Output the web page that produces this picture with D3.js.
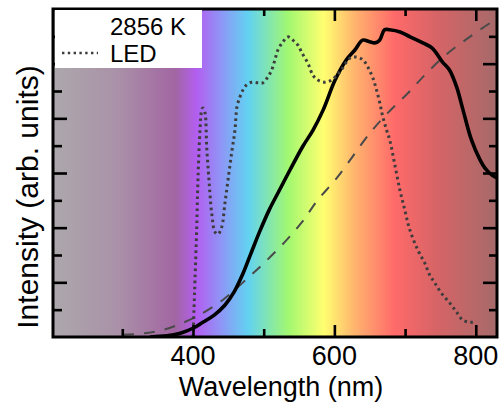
<!DOCTYPE html>
<html><head><meta charset="utf-8">
<script src="https://cdn.jsdelivr.net/npm/d3@7"></script>
<style>
body{margin:0;background:#fff;}
text{font-family:"Liberation Sans",Arial,sans-serif;fill:#000;}
</style></head>
<body><svg id="chart" width="501" height="405"></svg>
<script>
// ---- data ----
const seriesNames = ["2856 K", "LED"];
// measured 2856 K lamp spectrum (solid)
const lampNm  = [339,363,382,400,414,430,445,458,470,482,495,508,520,537,555,570,584,601,617,629,640,650,657,664,671,678,693,707,725,738,753,763,773,782,794,806,813,823,830];
const lampVal = [0,0.02,0.07,0.16,0.27,0.40,0.58,0.82,1.14,1.53,1.95,2.33,2.63,3.05,3.48,3.79,4.15,4.70,5.07,5.25,5.43,5.40,5.38,5.43,5.62,5.62,5.58,5.49,5.38,5.29,5.03,4.88,4.57,4.15,3.60,3.24,3.09,2.96,2.91];
// LED spectrum (dotted)
const ledNm  = [400,401.4,402.8,405.2,407,409.9,412.3,414.1,417,419.4,422.6,426.4,431.1,435.3,440.6,445.2,449.5,454.7,459.4,462.2,466.4,470.7,475.9,483,491.9,498.9,506,511.2,515.9,520.1,527.2,534.3,541.3,548.4,553.6,562.5,569.6,576.7,586.6,596,607.8,621.9,631.4,640.3,647.3,654.4,659.6,664.3,668.6,673.8,678.4,685.5,692.6,699.6,706.7,718,727.9,735,742,751.5,763.3,772.7,781.6,791.5,795.8];
const ledVal = [0,0.49,1.04,1.96,2.87,3.79,4.15,4.19,4.10,3.48,2.87,2.27,1.92,1.88,2.01,2.45,2.87,3.37,3.79,4.21,4.39,4.52,4.61,4.66,4.65,4.65,4.76,4.88,5.07,5.25,5.40,5.49,5.43,5.34,5.21,5.01,4.79,4.70,4.66,4.70,4.85,5.10,5.12,5.07,4.94,4.74,4.52,4.28,4.02,3.79,3.60,3.15,2.69,2.32,1.96,1.59,1.35,1.13,0.99,0.80,0.62,0.46,0.31,0.27,0.27];
// ideal blackbody reference (dashed)
const bbNm  = [301,332,357.6,385.9,414.1,445.2,477.7,501.8,530,554.1,576.7,603.5,650.2,675.6,703.9,730.7,760.4,791.5,819.8,830];
const bbVal = [0.04,0.07,0.13,0.26,0.44,0.71,1.08,1.37,1.74,2.10,2.51,2.91,3.73,4.10,4.46,4.83,5.19,5.49,5.74,5.82];
const xMajorTicks = [400,600,800];
const xMinorTicks = [300,500,700];
const yMajorTicks = [1,2,3,4,5];
const yMinorTicks = [0.5,1.5,2.5,3.5,4.5,5.5];

// ---- drawing ----
const svg = d3.select("#chart");
const L=53, R=497, T=9, B=337;
const x = d3.scaleLinear().domain([202,830]).range([L,R]);
const y = d3.scaleLinear().domain([0,6]).range([B,T]);

const spectrum = [
  [202,"#aca8ac"],[290,"#aa92a8"],[375,"#a266a2"],[405,"#b35ef0"],[440,"#8e96f6"],
  [478,"#62d2f2"],[535,"#a2f870"],[585,"#ffff70"],[630,"#ffb26e"],[685,"#ff6a6a"],
  [745,"#d66466"],[830,"#a66a6a"]
];
const defs = svg.append("defs");
const grad = defs.append("linearGradient").attr("id","spec")
  .attr("gradientUnits","userSpaceOnUse").attr("x1",L).attr("x2",R).attr("y1",0).attr("y2",0);
spectrum.forEach(s=>grad.append("stop").attr("offset",(x(s[0])-L)/(R-L)).attr("stop-color",s[1]));
defs.append("clipPath").attr("id","clip").append("rect").attr("x",L).attr("y",T).attr("width",R-L).attr("height",B-T);

svg.append("rect").attr("x",L).attr("y",T).attr("width",R-L).attr("height",B-T).attr("fill","url(#spec)");

const line = d3.line().x(d=>x(d[0])).y(d=>y(d[1])).curve(d3.curveCatmullRom.alpha(0.5));
const g = svg.append("g").attr("clip-path","url(#clip)");
g.append("path").datum(d3.zip(bbNm,bbVal)).attr("d",line)
  .attr("fill","none").attr("stroke","#4a4a4a").attr("stroke-width",2).attr("stroke-dasharray","11,10");
g.append("path").datum(d3.zip(lampNm,lampVal)).attr("d",line)
  .attr("fill","none").attr("stroke","#000").attr("stroke-width",3.6).attr("stroke-linejoin","round");
g.append("path").datum(d3.zip(ledNm,ledVal)).attr("d",line)
  .attr("fill","none").attr("stroke","#3d3d3d").attr("stroke-width",3).attr("stroke-dasharray","2.6,3.4");

// axes with inward ticks
function ax(axisFn, scale, ticks, len, transform){
  const a = axisFn(scale).tickValues(ticks).tickSize(-len).tickFormat("");
  const gg = svg.append("g").attr("transform",transform).call(a);
  gg.select(".domain").remove();
  gg.selectAll("line").attr("stroke","#000").attr("stroke-width",2.6);
  return gg;
}
ax(d3.axisBottom, x, xMajorTicks, 12, `translate(0,${B})`);
ax(d3.axisBottom, x, xMinorTicks, 8, `translate(0,${B})`);
ax(d3.axisTop, x, xMajorTicks, 12, `translate(0,${T})`);
ax(d3.axisTop, x, xMinorTicks, 7, `translate(0,${T})`);
ax(d3.axisLeft, y, yMajorTicks, 14, `translate(${L},0)`);
ax(d3.axisLeft, y, yMinorTicks, 9, `translate(${L},0)`);
ax(d3.axisRight, y, yMajorTicks, 14, `translate(${R},0)`);
ax(d3.axisRight, y, yMinorTicks, 8, `translate(${R},0)`);

svg.append("rect").attr("x",L).attr("y",T).attr("width",R-L).attr("height",B-T)
  .attr("fill","none").attr("stroke","#000").attr("stroke-width",3);

// tick labels
svg.append("g").selectAll("text").data(xMajorTicks).join("text")
  .attr("x",d=>x(d)).attr("y",365).attr("text-anchor","middle").attr("font-size",27).text(d=>d);

svg.append("text").attr("x",(L+R)/2+6).attr("y",396).attr("text-anchor","middle").attr("font-size",27)
  .text("Wavelength (nm)");
svg.append("text").attr("transform",`translate(38,${(T+B)/2+24}) rotate(-90)`).attr("text-anchor","middle")
  .attr("font-size",30).text("Intensity (arb. units)");

// legend
svg.append("rect").attr("x",55).attr("y",10).attr("width",147).attr("height",58).attr("fill","#fff");
svg.append("text").attr("x",110).attr("y",35).attr("font-size",24).text(seriesNames[0]);
svg.append("text").attr("x",110).attr("y",61.5).attr("font-size",24).text(seriesNames[1]);
svg.append("line").attr("x1",62).attr("x2",98).attr("y1",53).attr("y2",53)
  .attr("stroke","#3d3d3d").attr("stroke-width",2.5).attr("stroke-dasharray","2.4,3.4");
</script></body></html>
